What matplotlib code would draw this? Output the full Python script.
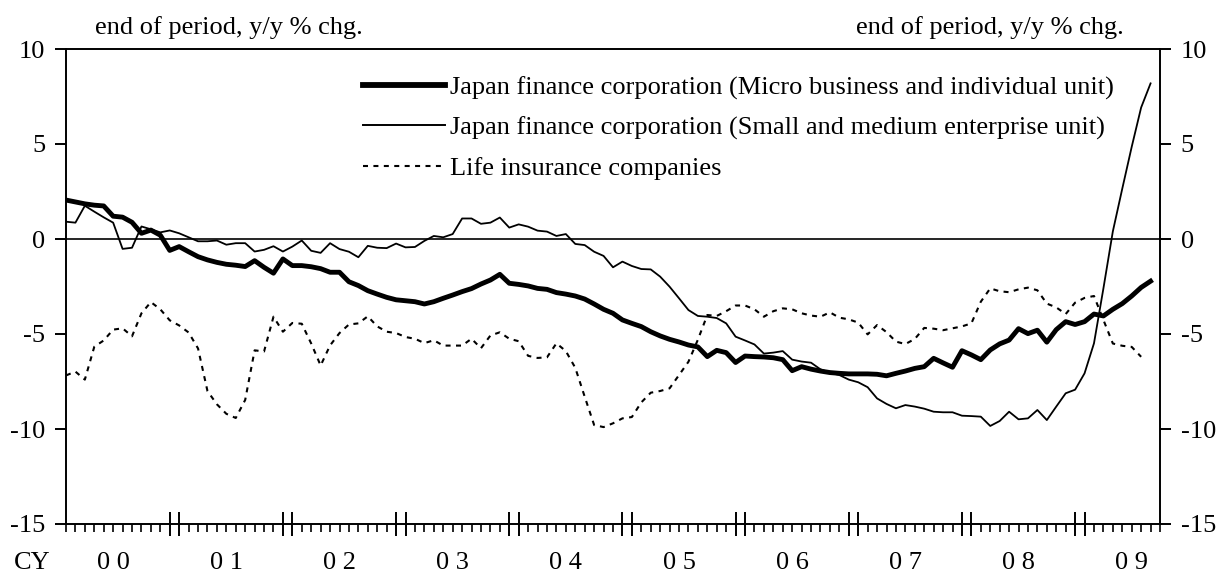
import matplotlib
matplotlib.use("Agg")
import matplotlib.pyplot as plt
from matplotlib.lines import Line2D
import matplotlib.transforms as mtransforms

plt.rcParams['font.family'] = ['Liberation Serif', 'DejaVu Serif']
plt.rcParams['axes.unicode_minus'] = False

# Monthly y/y % change, Jan 2000 onwards
micro_unit = [
    2.05, 1.95, 1.85, 1.78, 1.74, 1.20, 1.15, 0.88, 0.30, 0.47, 0.20, -0.60,
    -0.40, -0.67, -0.93, -1.10, -1.23, -1.33, -1.38, -1.45, -1.14, -1.49, -1.80, -1.05,
    -1.40, -1.40, -1.46, -1.56, -1.75, -1.75, -2.25, -2.45, -2.72, -2.90, -3.07, -3.20,
    -3.25, -3.30, -3.42, -3.30, -3.12, -2.95, -2.77, -2.61, -2.37, -2.16, -1.86, -2.33,
    -2.39, -2.47, -2.60, -2.65, -2.82, -2.90, -3.00, -3.16, -3.42, -3.70, -3.91, -4.26,
    -4.44, -4.61, -4.88, -5.10, -5.28, -5.42, -5.58, -5.68, -6.19, -5.86, -5.98, -6.50,
    -6.16, -6.19, -6.21, -6.25, -6.35, -6.93, -6.72, -6.85, -6.95, -7.03, -7.07, -7.10,
    -7.10, -7.10, -7.12, -7.20, -7.07, -6.95, -6.81, -6.72, -6.28, -6.52, -6.75, -5.88,
    -6.10, -6.35, -5.84, -5.52, -5.32, -4.72, -4.98, -4.80, -5.43, -4.77, -4.35, -4.50,
    -4.35, -3.95, -4.05, -3.70, -3.40, -3.00, -2.55, -2.22,
]

sme_unit = [
    0.91, 0.86, 1.75, 1.44, 1.14, 0.86, -0.52, -0.46, 0.66, 0.51, 0.35, 0.45,
    0.30, 0.09, -0.12, -0.12, -0.08, -0.30, -0.22, -0.22, -0.66, -0.57, -0.38, -0.66,
    -0.40, -0.08, -0.62, -0.73, -0.22, -0.53, -0.67, -0.96, -0.36, -0.46, -0.48, -0.24,
    -0.44, -0.42, -0.10, 0.16, 0.09, 0.26, 1.08, 1.08, 0.80, 0.86, 1.13, 0.60,
    0.77, 0.65, 0.44, 0.39, 0.16, 0.26, -0.26, -0.32, -0.67, -0.89, -1.49, -1.19,
    -1.42, -1.58, -1.60, -1.98, -2.51, -3.12, -3.74, -4.05, -4.09, -4.16, -4.44, -5.14,
    -5.34, -5.55, -6.03, -5.98, -5.90, -6.35, -6.45, -6.51, -6.86, -7.04, -7.16, -7.40,
    -7.54, -7.80, -8.39, -8.68, -8.91, -8.74, -8.82, -8.93, -9.09, -9.12, -9.12, -9.30,
    -9.32, -9.35, -9.84, -9.58, -9.09, -9.49, -9.44, -9.00, -9.53, -8.82, -8.12, -7.93,
    -7.07, -5.49, -2.60, 0.40, 2.65, 4.85, 6.92, 8.19,
]

life_insurance = [
    -7.18, -6.98, -7.40, -5.67, -5.34, -4.77, -4.70, -5.12, -3.91, -3.32, -3.70, -4.28,
    -4.55, -4.92, -5.76, -8.00, -8.70, -9.20, -9.42, -8.47, -5.86, -5.92, -4.09, -4.88,
    -4.42, -4.46, -5.50, -6.66, -5.60, -4.95, -4.50, -4.44, -4.07, -4.60, -4.88, -4.95,
    -5.16, -5.25, -5.48, -5.33, -5.61, -5.61, -5.61, -5.25, -5.75, -5.08, -4.91, -5.25,
    -5.38, -6.15, -6.26, -6.23, -5.49, -5.90, -6.78, -8.30, -9.79, -9.90, -9.70, -9.44,
    -9.37, -8.60, -8.09, -8.00, -7.86, -7.16, -6.46, -5.30, -4.00, -4.05, -3.80, -3.50,
    -3.50, -3.70, -4.09, -3.80, -3.65, -3.70, -3.91, -4.03, -4.09, -3.86, -4.14, -4.23,
    -4.40, -5.02, -4.53, -4.90, -5.40, -5.53, -5.26, -4.68, -4.72, -4.80, -4.70, -4.60,
    -4.44, -3.30, -2.60, -2.75, -2.80, -2.65, -2.56, -2.70, -3.40, -3.60, -3.95, -3.35,
    -3.10, -3.00, -4.26, -5.50, -5.62, -5.68, -6.20,
]

series_labels = [
    "Japan finance corporation (Micro business and individual unit)",
    "Japan finance corporation (Small and medium enterprise unit)",
    "Life insurance companies",
]
year_labels = ["0 0", "0 1", "0 2", "0 3", "0 4", "0 5", "0 6", "0 7", "0 8", "0 9"]
y_ticks = [10, 5, 0, -5, -10, -15]
unit_text = "end of period, y/y % chg."

n_months = 116
FS = 19

fig = plt.figure(figsize=(12.19, 5.75), dpi=100)
ax = fig.add_axes([66 / 1219, 1 - 524 / 575, (1160 - 66) / 1219, (524 - 49) / 575])

x_micro = list(range(len(micro_unit)))
x_sme = list(range(len(sme_unit)))
x_life = list(range(len(life_insurance)))

ax.axhline(0, color='black', lw=1.2, zorder=1)
l3, = ax.plot(x_life, life_insurance, color='black', lw=1.5,
              linestyle=(0, (2.4, 2.6)), zorder=2)
l2, = ax.plot(x_sme, sme_unit, color='black', lw=1.3, zorder=3)
l1, = ax.plot(x_micro, micro_unit, color='black', lw=3.5, zorder=4)

ax.set_xlim(0, n_months)
ax.set_ylim(-15, 10)

for sp in ax.spines.values():
    sp.set_linewidth(1.4)

# y axis on both sides
ax.set_yticks(y_ticks)
ax.set_yticklabels([str(v) for v in y_ticks])
ax.tick_params(axis='y', which='major', direction='out', length=8, width=1.4,
               left=True, right=True, labelleft=True, labelright=True,
               labelsize=FS, pad=7)

# month ticks plus tall double ticks at each year boundary
ax.set_xticks(range(0, n_months + 1), minor=True)
year_marks = []
for k in range(1, 10):
    year_marks += [12 * k - 1, 12 * k]
ax.set_xticks(year_marks)
ax.set_xticklabels([])
ax.tick_params(axis='x', which='minor', direction='out', length=6, width=1.2)
ax.tick_params(axis='x', which='major', direction='inout', length=17, width=1.4)

trans = mtransforms.blended_transform_factory(ax.transData, ax.transAxes)
for k, lab in enumerate(year_labels):
    ax.text(12 * k + 5, -0.082, lab, transform=trans, ha='center', va='center',
            fontsize=FS)
fig.text(32 / 1219, 1 - 563 / 575, "CY", ha='center', va='center', fontsize=FS)

fig.text(229 / 1219, 1 - 28 / 575, unit_text, ha='center', va='center', fontsize=FS)
fig.text(990 / 1219, 1 - 28 / 575, unit_text, ha='center', va='center', fontsize=FS)

handles = [Line2D([], [], color='black', lw=4.2),
           Line2D([], [], color='black', lw=1.4),
           Line2D([], [], color='black', lw=1.5, linestyle=(0, (2.4, 2.6)))]
ax.legend(handles, series_labels, loc='upper left',
          bbox_to_anchor=(363 / 1219, 1 - 76 / 575), bbox_transform=fig.transFigure,
          frameon=False, fontsize=FS, handlelength=3.1, handletextpad=0.19,
          labelspacing=0.62, borderpad=0, borderaxespad=0)

fig.savefig("out.png", dpi=100)
